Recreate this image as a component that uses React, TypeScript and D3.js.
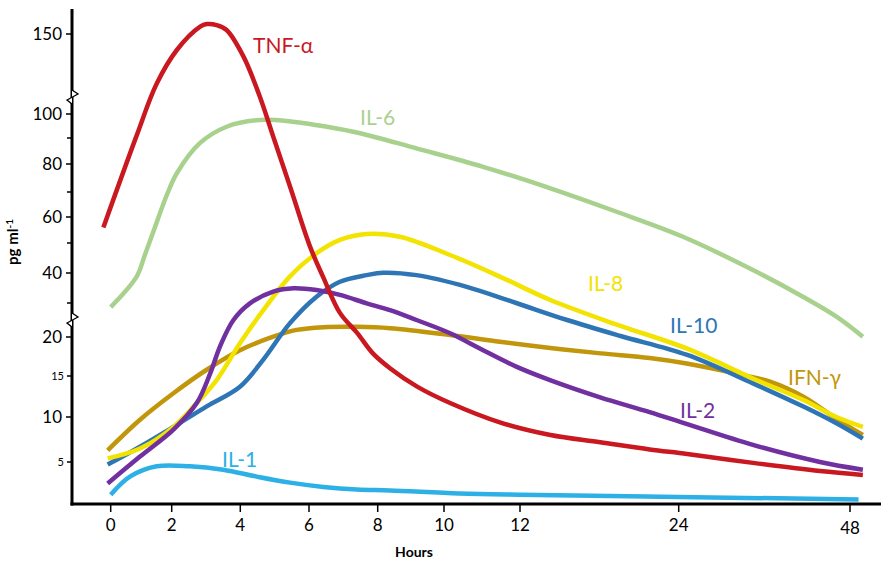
import React from 'react';
import * as d3 from 'd3';

// ---------- data (hours, pg/ml) ----------
const hourTicks = [0, 2, 4, 6, 8, 10, 12, 24, 48];
const yScaleBreaks = [0, 5, 10, 15, 20, 30, 40, 50, 60, 70, 80, 90, 100, 150];
const yLabeledTicks = [150, 100, 80, 60, 40, 20, 10];
const ySmallLabeledTicks = [15, 5];
const yUnlabeledTicks = [90, 70, 50, 30];

const tnfAlpha: [number, number][] = [
  [-0.24, 56], [0.85, 91], [1.51, 119], [2.15, 140], [2.83, 154.6], [3.02, 156.2],
  [3.31, 155.6], [3.6, 152.5], [4.09, 136], [4.57, 110.8], [4.96, 90.5],
  [5.45, 71.9], [6.03, 48.8], [6.41, 38.7], [6.9, 27.1], [7.4, 21.2], [7.86, 17.9], [8.37, 16],
  [9.19, 13.7], [10.16, 11.7], [11.47, 9.4], [14.3, 8], [18.06, 7.2], [21.8, 6.4], [25.2, 5.9],
  [34.4, 4.9], [43.8, 3.95], [49.8, 3.5],
];
const il6: [number, number][] = [
  [0, 28.8], [0.85, 38.8], [1.12, 46], [1.51, 58], [1.84, 68.8], [2.15, 76.7], [2.82, 88],
  [3.6, 94.7], [4.57, 97.5], [5.53, 96.8], [6.52, 94.7], [7.49, 92], [9.17, 86], [11.03, 79],
  [14.3, 71.3], [19.3, 62.1], [24.6, 52.4], [34.4, 41], [41.4, 32.1], [46.1, 26], [49.8, 20.1],
];
const il8: [number, number][] = [
  [-0.1, 5.4], [0.96, 6.5], [2.05, 8.9], [2.73, 11.7], [3.31, 14.5], [3.99, 19.2], [4.67, 27.9],
  [5.44, 38.8], [6.22, 46.6], [6.9, 51.2], [7.68, 53.5], [8.67, 52.4], [10.16, 46], [11.47, 38.8],
  [14.3, 31], [19.2, 23.8], [25.2, 18.5], [34.4, 14.7], [41.4, 12.1], [46.1, 10], [49.8, 8.9],
];
const il10: [number, number][] = [
  [-0.1, 4.7], [0.96, 6.7], [2.05, 8.9], [3.02, 11.3], [3.99, 13.7], [4.67, 17.1], [5.44, 24],
  [6.22, 32.1], [6.9, 37.1], [7.68, 39.3], [8.17, 40.1], [9.17, 39.3], [10.6, 35.4], [11.9, 30],
  [15.56, 25], [19.6, 20.3], [25.2, 17.7], [34.4, 14.1], [41.4, 11.3], [46.1, 9.3], [49.8, 7.6],
];
const il2: [number, number][] = [
  [-0.1, 2.5], [0.96, 5.6], [2.05, 8.6], [2.73, 11.7], [3.12, 15.3], [3.41, 18.8], [3.8, 25],
  [4.28, 29.9], [4.96, 33.8], [5.55, 34.9], [6.22, 34.3], [6.9, 32.7], [7.68, 29.9], [8.37, 27.9],
  [9.17, 25], [10.16, 21.1], [11.03, 18.3], [11.9, 16.2], [14.27, 14.5], [18.06, 12.4],
  [21.8, 10.6], [25.2, 9.2], [34.4, 6.9], [43.8, 5], [49.8, 4.1],
];
const ifnGamma: [number, number][] = [
  [-0.1, 6.3], [0.96, 9.7], [2.05, 12.9], [3.02, 15.8], [3.99, 18.3], [4.96, 20.1], [5.64, 22.1],
  [6.42, 22.9], [7.39, 23], [8.37, 22.6], [10.16, 20.6], [11.47, 19.4], [14.3, 18.6], [18.1, 17.9],
  [21.8, 17.3], [25.1, 16.6], [32.1, 15.3], [36.8, 14.3], [41.4, 12.5], [46.1, 9.8], [49.8, 8],
];
const il1: [number, number][] = [
  [0, 1.2], [0.63, 3.3], [1.51, 4.5], [2.53, 4.5], [3.5, 4.1], [4.48, 3.3], [5.45, 2.6],
  [6.42, 2.1], [7.39, 1.8], [8.37, 1.7], [10.4, 1.35], [12, 1.2], [22.6, 0.97], [49.2, 0.64],
];

const seriesNames = ['IL-1', 'IFN-γ', 'IL-10', 'IL-8', 'IL-2', 'IL-6', 'TNF-α'];
const seriesData = [il1, ifnGamma, il10, il8, il2, il6, tnfAlpha];

// ---------- styles / layout ----------
const seriesStyle: Record<string, { color: string; lx: number; ly: number }> = {
  'IL-1': { color: '#2DB0E5', lx: 222, ly: 467 },
  'IFN-γ': { color: '#C1960B', lx: 788, ly: 385 },
  'IL-10': { color: '#2E75B6', lx: 670, ly: 333 },
  'IL-8': { color: '#F2E300', lx: 588, ly: 291 },
  'IL-2': { color: '#7030A0', lx: 680, ly: 418 },
  'IL-6': { color: '#A9D18E', lx: 360, ly: 125 },
  'TNF-α': { color: '#C9181F', lx: 253, ly: 53 },
};

const FONT = "Lato, 'Open Sans', sans-serif";
const W = 881;
const H = 561;

export default function App() {
  const x = d3
    .scaleLinear()
    .domain(hourTicks)
    .range([110.7, 171.7, 240.3, 309, 377.7, 444, 520, 678.7, 850]);
  const y = d3
    .scaleLinear()
    .domain(yScaleBreaks)
    .range([505, 462, 417, 376, 337, 303, 273, 243, 217, 192, 164, 138, 114, 34]);

  const line = d3
    .line<[number, number]>()
    .x((d) => x(d[0]))
    .y((d) => y(d[1]))
    .curve(d3.curveCatmullRom.alpha(0.5));

  const axisX = 72;
  const axisY = 504;
  const breaks = [97, 320];

  return (
    <svg
      width={W}
      height={H}
      style={{ position: 'absolute', left: 0, top: 0, background: '#fff' }}
      fontFamily={FONT}
    >
      <rect x={0} y={0} width={W} height={H} fill="#fff" />

      {/* curves */}
      {seriesData.map((d, i) => (
        <path
          key={seriesNames[i]}
          d={line(d) || ''}
          fill="none"
          stroke={seriesStyle[seriesNames[i]].color}
          strokeWidth={4.5}
          strokeLinecap="butt"
          strokeLinejoin="round"
        />
      ))}

      {/* series labels */}
      {seriesNames.map((n) => (
        <text key={n} x={seriesStyle[n].lx} y={seriesStyle[n].ly} fill={seriesStyle[n].color} fontSize={21}>
          {n}
        </text>
      ))}

      {/* y axis */}
      <line x1={axisX} x2={axisX} y1={9} y2={axisY + 1.5} stroke="#000" strokeWidth={3} />
      {yLabeledTicks.map((t) => (
        <g key={t}>
          <line x1={axisX - 6} x2={axisX} y1={y(t)} y2={y(t)} stroke="#000" strokeWidth={1.5} />
          <text x={62} y={y(t)} dy="0.36em" textAnchor="end" fontSize={17} fill="#000">
            {t}
          </text>
        </g>
      ))}
      {ySmallLabeledTicks.map((t) => (
        <g key={t}>
          <line x1={axisX - 5} x2={axisX} y1={y(t)} y2={y(t)} stroke="#000" strokeWidth={1.5} />
          <text x={64} y={y(t)} dy="0.36em" textAnchor="end" fontSize={11} fill="#000">
            {t}
          </text>
        </g>
      ))}
      {yUnlabeledTicks.map((t) => (
        <line key={t} x1={axisX - 5} x2={axisX} y1={y(t)} y2={y(t)} stroke="#000" strokeWidth={1.5} />
      ))}
      {breaks.map((b) => (
        <path
          key={b}
          d={`M${axisX},${b - 7} L${axisX + 6},${b - 3} L${axisX - 5},${b + 3} L${axisX},${b + 7}`}
          fill="#fff"
          stroke="#000"
          strokeWidth={1.3}
        />
      ))}

      {/* x axis */}
      <line x1={axisX - 1.5} x2={W} y1={axisY} y2={axisY} stroke="#000" strokeWidth={3} />
      {hourTicks.map((t) => (
        <g key={t}>
          <line x1={x(t)} x2={x(t)} y1={axisY} y2={axisY + 8} stroke="#000" strokeWidth={1.5} />
          <text x={x(t)} y={t === 48 ? 534 : 531} textAnchor="middle" fontSize={17} fill="#000">
            {t}
          </text>
        </g>
      ))}

      {/* axis titles */}
      <text x={414} y={557} textAnchor="middle" fontSize={14} fontWeight="bold" fill="#000">
        Hours
      </text>
      <text
        transform="translate(18,242) rotate(-90)"
        textAnchor="middle"
        fontSize={15}
        fontWeight="bold"
        fill="#000"
      >
        pg ml<tspan dy={-5} fontSize={10}>-1</tspan>
      </text>
    </svg>
  );
}
